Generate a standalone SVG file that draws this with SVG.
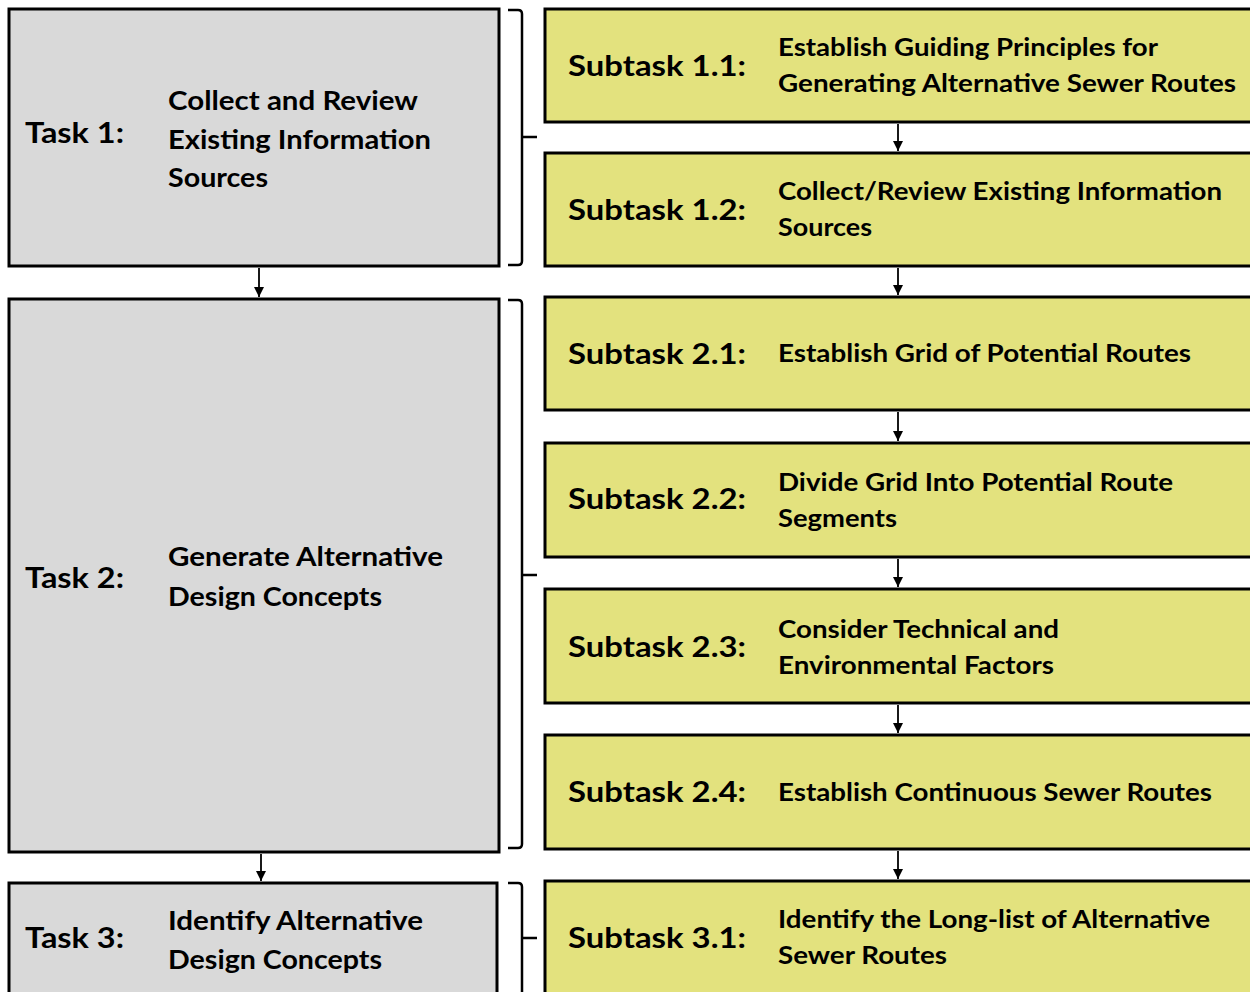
<svg xmlns="http://www.w3.org/2000/svg" width="1250" height="992" viewBox="0 0 1250 992">
<style>
.task{fill:#d9d9d9;stroke:#000;stroke-width:3}
.sub{fill:#e3e27e;stroke:#000;stroke-width:3}
.lbl{font-family:Lato,"Liberation Sans",sans-serif;font-weight:bold;font-size:28px;fill:#000}
.tdesc{font-family:Lato,"Liberation Sans",sans-serif;font-weight:bold;font-size:26px;fill:#000}
.sdesc{font-family:Lato,"Liberation Sans",sans-serif;font-weight:bold;font-size:24px;fill:#000}
.conn{stroke:#000;stroke-width:1.8;fill:none}
.brace{stroke:#000;stroke-width:2.5;fill:none}
</style>
<defs>
<marker id="arr" viewBox="0 0 10 10" refX="10" refY="5" markerWidth="10" markerHeight="10" markerUnits="userSpaceOnUse" orient="auto">
<path d="M0,0 L10,5 L0,10 z" fill="#000"/>
</marker>
</defs>
<rect width="1250" height="992" fill="#fff"/>

<g id="task1">
<rect class="task" x="9" y="9" width="490" height="257"/>
<text class="lbl" x="25" y="143" textLength="99" lengthAdjust="spacingAndGlyphs">Task 1:</text>
<text class="tdesc" x="168" y="110" textLength="250" lengthAdjust="spacingAndGlyphs">Collect and Review</text>
<text class="tdesc" x="168" y="149" textLength="263" lengthAdjust="spacingAndGlyphs">Existing Information</text>
<text class="tdesc" x="168" y="187" textLength="100" lengthAdjust="spacingAndGlyphs">Sources</text>
</g>
<g id="task2">
<rect class="task" x="9" y="299" width="490" height="553"/>
<text class="lbl" x="25" y="588" textLength="99" lengthAdjust="spacingAndGlyphs">Task 2:</text>
<text class="tdesc" x="168" y="566" textLength="275" lengthAdjust="spacingAndGlyphs">Generate Alternative</text>
<text class="tdesc" x="168" y="606" textLength="214" lengthAdjust="spacingAndGlyphs">Design Concepts</text>
</g>
<g id="task3">
<rect class="task" x="9" y="883" width="488" height="200"/>
<text class="lbl" x="25" y="948" textLength="99" lengthAdjust="spacingAndGlyphs">Task 3:</text>
<text class="tdesc" x="168" y="930" textLength="255" lengthAdjust="spacingAndGlyphs">Identify Alternative</text>
<text class="tdesc" x="168" y="969" textLength="214" lengthAdjust="spacingAndGlyphs">Design Concepts</text>
</g>

<g id="sub11">
<rect class="sub" x="545" y="9" width="720" height="113"/>
<text class="lbl" x="568" y="76" textLength="178" lengthAdjust="spacingAndGlyphs">Subtask 1.1:</text>
<text class="sdesc" x="778" y="56" textLength="380" lengthAdjust="spacingAndGlyphs">Establish Guiding Principles for</text>
<text class="sdesc" x="778" y="92" textLength="458" lengthAdjust="spacingAndGlyphs">Generating Alternative Sewer Routes</text>
</g>
<g id="sub12">
<rect class="sub" x="545" y="153" width="720" height="113"/>
<text class="lbl" x="568" y="220" textLength="178" lengthAdjust="spacingAndGlyphs">Subtask 1.2:</text>
<text class="sdesc" x="778" y="200" textLength="444" lengthAdjust="spacingAndGlyphs">Collect/Review Existing Information</text>
<text class="sdesc" x="778" y="236" textLength="94" lengthAdjust="spacingAndGlyphs">Sources</text>
</g>
<g id="sub21">
<rect class="sub" x="545" y="297" width="720" height="113"/>
<text class="lbl" x="568" y="364" textLength="178" lengthAdjust="spacingAndGlyphs">Subtask 2.1:</text>
<text class="sdesc" x="778" y="362" textLength="413" lengthAdjust="spacingAndGlyphs">Establish Grid of Potential Routes</text>
</g>
<g id="sub22">
<rect class="sub" x="545" y="443" width="720" height="114"/>
<text class="lbl" x="568" y="509" textLength="178" lengthAdjust="spacingAndGlyphs">Subtask 2.2:</text>
<text class="sdesc" x="778" y="491" textLength="395" lengthAdjust="spacingAndGlyphs">Divide Grid Into Potential Route</text>
<text class="sdesc" x="778" y="527" textLength="119" lengthAdjust="spacingAndGlyphs">Segments</text>
</g>
<g id="sub23">
<rect class="sub" x="545" y="589" width="720" height="114"/>
<text class="lbl" x="568" y="657" textLength="178" lengthAdjust="spacingAndGlyphs">Subtask 2.3:</text>
<text class="sdesc" x="778" y="638" textLength="281" lengthAdjust="spacingAndGlyphs">Consider Technical and</text>
<text class="sdesc" x="778" y="674" textLength="276" lengthAdjust="spacingAndGlyphs">Environmental Factors</text>
</g>
<g id="sub24">
<rect class="sub" x="545" y="735" width="720" height="114"/>
<text class="lbl" x="568" y="802" textLength="178" lengthAdjust="spacingAndGlyphs">Subtask 2.4:</text>
<text class="sdesc" x="778" y="801" textLength="434" lengthAdjust="spacingAndGlyphs">Establish Continuous Sewer Routes</text>
</g>
<g id="sub31">
<rect class="sub" x="545" y="881" width="720" height="200"/>
<text class="lbl" x="568" y="948" textLength="178" lengthAdjust="spacingAndGlyphs">Subtask 3.1:</text>
<text class="sdesc" x="778" y="928" textLength="432" lengthAdjust="spacingAndGlyphs">Identify the Long-list of Alternative</text>
<text class="sdesc" x="778" y="964" textLength="169" lengthAdjust="spacingAndGlyphs">Sewer Routes</text>
</g>

<g id="connectors">
<line class="conn" x1="259" y1="268" x2="259" y2="297" marker-end="url(#arr)"/>
<line class="conn" x1="261" y1="854" x2="261" y2="881" marker-end="url(#arr)"/>
<line class="conn" x1="898" y1="124" x2="898" y2="151" marker-end="url(#arr)"/>
<line class="conn" x1="898" y1="268" x2="898" y2="295" marker-end="url(#arr)"/>
<line class="conn" x1="898" y1="412" x2="898" y2="441" marker-end="url(#arr)"/>
<line class="conn" x1="898" y1="559" x2="898" y2="587" marker-end="url(#arr)"/>
<line class="conn" x1="898" y1="705" x2="898" y2="733" marker-end="url(#arr)"/>
<line class="conn" x1="898" y1="851" x2="898" y2="879" marker-end="url(#arr)"/>
<path class="brace" d="M508,10 H518 Q522,10 522,14 V261 Q522,265 518,265 H508 M522,137 H537"/>
<path class="brace" d="M508,300 H518 Q522,300 522,304 V844 Q522,848 518,848 H508 M522,575 H537"/>
<path class="brace" d="M508,883 H518 Q522,883 522,887 V1000 M522,938 H537"/>
</g>
</svg>
